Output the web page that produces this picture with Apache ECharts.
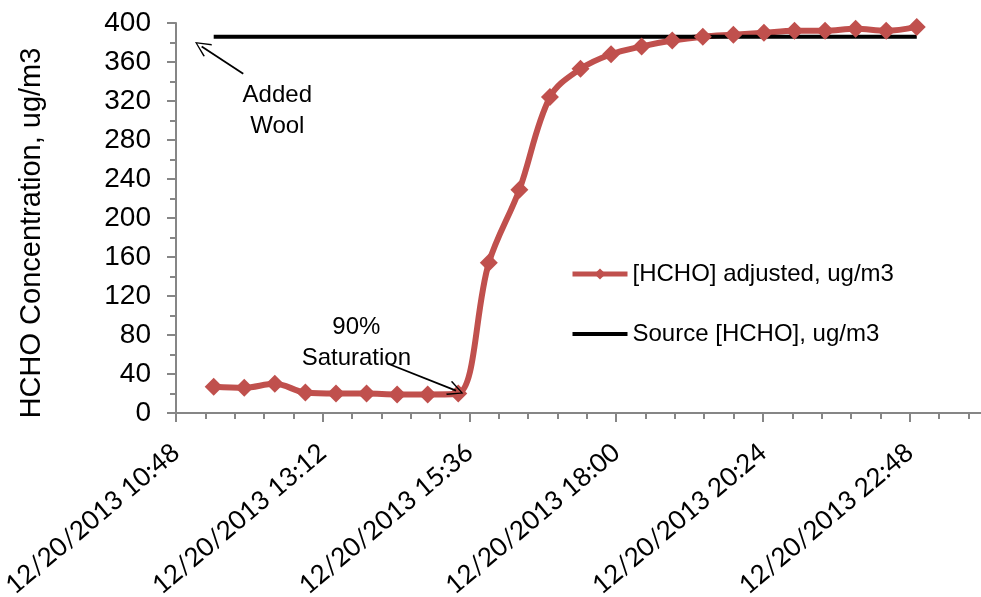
<!DOCTYPE html>
<html>
<head>
<meta charset="utf-8">
<script src="https://cdn.jsdelivr.net/npm/echarts@6/dist/echarts.min.js"></script>
<style>
html, body { margin: 0; padding: 0; background: #fff; }
#chart { width: 981px; height: 597px; }
</style>
</head>
<body>
<div id="chart"></div>
<script>
// sample times on 12/20/2013
var sampleTimes = ['11:25', '11:55', '12:25', '12:55', '13:25', '13:55', '14:25', '14:55',
    '15:25', '15:55', '16:25', '16:55', '17:25', '17:55', '18:25', '18:55',
    '19:25', '19:55', '20:25', '20:55', '21:25', '21:55', '22:25', '22:55'];
var hchoAdjusted = [27, 26, 30, 21, 20, 20, 19, 19, 20, 154, 229, 324,
    353, 368, 376, 382, 386, 388, 390, 392, 392, 394, 392, 396];
var sourceHcho = [386, 386, 386, 386, 386, 386, 386, 386, 386, 386, 386, 386,
    386, 386, 386, 386, 386, 386, 386, 386, 386, 386, 386, 386];
var seriesNames = ['[HCHO] adjusted, ug/m3', 'Source [HCHO], ug/m3'];

// axis: hours counted from 10:48
var axisStart = 10.8;
var axisMax = 13.2;
var axisStep = 2.4;

// annotations (hours from 10:48, ug/m3)
var notes = [
    { text: 'Added\nWool', at: [1.657, 310] },
    { text: '90%\nSaturation', at: [2.95, 72] }
];
var arrows = [
    { from: [1.10, 348], to: [0.42, 376] },
    { from: [3.45, 51], to: [4.58, 23] }
];

function toHours(t) {
    var p = t.split(':');
    return parseInt(p[0], 10) + parseInt(p[1], 10) / 60 - axisStart;
}
function fmtTime(v) {
    var mins = Math.round((v + axisStart) * 60);
    var h = Math.floor(mins / 60), m = mins % 60;
    return '12/20/2013 ' + h + ':' + (m < 10 ? '0' + m : m);
}

var adjData = [], srcData = [];
for (var i = 0; i < sampleTimes.length; i++) {
    adjData.push([toHours(sampleTimes[i]), hchoAdjusted[i]]);
    srcData.push([toHours(sampleTimes[i]), sourceHcho[i]]);
}

// open arrow head
var arrowHead = 'path://M50,0 L100,90 L92,96 L50,16 L8,96 L0,90 Z';
var arrowLines = arrows.map(function (a) {
    return [
        { coord: a.from, symbol: 'none' },
        { coord: a.to, symbol: arrowHead, symbolSize: [15, 16] }
    ];
});
var notePoints = notes.map(function (n) {
    return { name: n.text, coord: n.at };
});

var axisGray = '#868686';
var font = 'Liberation Sans, Arial, sans-serif';

var myChart = echarts.init(document.getElementById('chart'));
var option = {
    animation: false,
    grid: { left: 176, top: 23, width: 807, height: 390, outerBoundsMode: 'none', containLabel: false },
    legend: {
        orient: 'vertical',
        left: 570,
        top: 262,
        padding: 0,
        itemWidth: 55,
        itemHeight: 14,
        itemGap: 36,
        data: [
            { name: seriesNames[0], lineStyle: { width: 5 } },
            { name: seriesNames[1], icon: 'path://M0,0 L100,0 L100,7 L0,7 Z' }
        ],
        textStyle: { fontSize: 24, lineHeight: 24, color: '#000', fontFamily: font }
    },
    xAxis: {
        type: 'value',
        min: 0,
        max: axisMax,
        interval: axisStep,
        axisLine: { show: true, lineStyle: { color: axisGray, width: 2 } },
        axisTick: { show: true, inside: false, length: 9, lineStyle: { color: axisGray, width: 2 } },
        minorTick: { show: true, splitNumber: 5, length: 6, lineStyle: { color: axisGray, width: 2 } },
        splitLine: { show: false },
        axisLabel: {
            rotate: 40,
            margin: 36,
            showMaxLabel: false,
            color: '#000',
            fontSize: 26,
            fontFamily: 'Lato, sans-serif',
            formatter: fmtTime
        }
    },
    yAxis: {
        type: 'value',
        min: 0,
        max: 400,
        interval: 40,
        name: 'HCHO Concentration, ug/m3',
        nameLocation: 'middle',
        nameGap: 130,
        nameTextStyle: { fontSize: 29, color: '#000', fontFamily: font, padding: [0, 30, 0, 0] },
        axisLine: { show: true, lineStyle: { color: axisGray, width: 2 } },
        axisTick: { show: true, inside: false, length: 9, lineStyle: { color: axisGray, width: 2 } },
        minorTick: { show: true, splitNumber: 2, length: 6, lineStyle: { color: axisGray, width: 2 } },
        splitLine: { show: false },
        axisLabel: { margin: 25, color: '#000', fontSize: 28, fontFamily: font }
    },
    series: [{
        name: seriesNames[0],
        type: 'line',
        data: adjData,
        smooth: 0.35,
        symbol: 'diamond',
        symbolSize: 18,
        itemStyle: { color: '#C0504D' },
        lineStyle: { color: '#C0504D', width: 6 }
    }, {
        name: seriesNames[1],
        type: 'line',
        data: srcData,
        symbol: 'none',
        itemStyle: { color: '#000' },
        lineStyle: { color: '#000', width: 4 },
        markLine: {
            silent: true,
            animation: false,
            label: { show: false },
            lineStyle: { color: '#000', width: 1.8, type: 'solid' },
            data: arrowLines
        },
        markPoint: {
            silent: true,
            symbol: 'circle',
            symbolSize: 1,
            itemStyle: { color: 'rgba(0,0,0,0)' },
            label: {
                show: true,
                position: 'inside',
                formatter: '{b}',
                color: '#000',
                fontSize: 24,
                lineHeight: 31,
                fontFamily: font
            },
            data: notePoints
        }
    }]
};
myChart.setOption(option);
</script>
</body>
</html>
